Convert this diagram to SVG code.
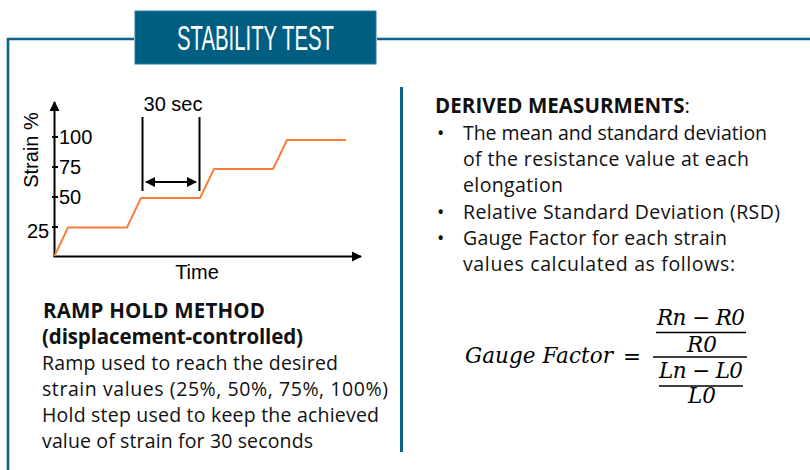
<svg xmlns="http://www.w3.org/2000/svg" width="810" height="470" viewBox="0 0 810 470">
<style>
.frame{stroke:#0b6488;stroke-width:2.6;fill:none}
.ax{stroke:#000;stroke-width:2;fill:none}
.body{font-family:"Open Sans","Liberation Sans",sans-serif;font-size:19.5px;fill:#111}
.bold{font-weight:bold;font-size:20.5px}
.graph{font-family:"Liberation Sans",Arial,sans-serif;font-size:20px;fill:#000}
.math{font-family:"DejaVu Serif","Liberation Serif",serif;font-style:italic;font-size:21.5px;fill:#000}
.bar{stroke:#000;stroke-width:1.6}
</style>
<defs>
<marker id="ah" viewBox="0 0 10 10" refX="9" refY="5" markerWidth="5" markerHeight="5" orient="auto-start-reverse" markerUnits="strokeWidth">
<path d="M0,0 L10,5 L0,10 z" fill="#000"/>
</marker>
</defs>
<rect width="810" height="470" fill="#fff"/>
<g id="frame">
<path class="frame" d="M8,470 V39 H134 M377,39 H810"/>
<line x1="401.5" y1="87" x2="401.5" y2="452" stroke="#0b6488" stroke-width="3"/>
</g>
<g id="header">
<rect x="135" y="11" width="241" height="53" fill="#005e82" stroke="#2a7c9c" stroke-width="1"/>
<text x="255.5" y="50" text-anchor="middle" font-family="Liberation Sans,Arial,sans-serif" font-size="35" fill="#fff" textLength="157" lengthAdjust="spacingAndGlyphs">STABILITY TEST</text>
</g>
<g id="chart">
<g id="axes">
<line class="ax" x1="54.5" y1="257" x2="54.5" y2="102" marker-end="url(#ah)"/>
<line class="ax" x1="53.5" y1="256.5" x2="361" y2="256.5" marker-end="url(#ah)"/>
<path class="ax" d="M52,137 H58 M52,167 H58 M52,197 H58 M52,227 H58" stroke-width="1.5"/>
</g>
<text class="graph" x="59" y="144">100</text>
<text class="graph" x="59" y="174">75</text>
<text class="graph" x="59" y="204">50</text>
<text class="graph" x="27" y="237.5">25</text>
<text class="graph" transform="translate(38,150) rotate(-90)" text-anchor="middle">Strain %</text>
<text class="graph" x="197" y="279" text-anchor="middle">Time</text>
<polyline points="54.5,256 68,227.5 127,227.5 141,198 200,198 214,169 273,169 287,140 346,140" fill="none" stroke="#fb7d3c" stroke-width="2"/>
<g id="interval">
<text class="graph" x="173" y="111" text-anchor="middle">30 sec</text>
<line class="ax" x1="142.5" y1="117" x2="142.5" y2="191"/>
<line class="ax" x1="199.5" y1="117" x2="199.5" y2="191"/>
<line class="ax" x1="146" y1="182" x2="196" y2="182" marker-start="url(#ah)" marker-end="url(#ah)"/>
</g>
</g>
<g id="method">
<text class="body bold" x="43" y="318" textLength="222">RAMP HOLD METHOD</text>
<text class="body bold" x="42" y="344" textLength="261">(displacement-controlled)</text>
<text class="body" x="42" y="370" textLength="296">Ramp used to reach the desired</text>
<text class="body" x="42" y="396" textLength="346">strain values (25%, 50%, 75%, 100%)</text>
<text class="body" x="42" y="422" textLength="337">Hold step used to keep the achieved</text>
<text class="body" x="42" y="448" textLength="271">value of strain for 30 seconds</text>
</g>
<g id="derived">
<text class="body bold" x="435" y="113" textLength="255">DERIVED MEASURMENTS<tspan font-weight="normal">:</tspan></text>
<g class="body">
<text x="437" y="140">•</text>
<text x="463" y="140" textLength="304">The mean and standard deviation</text>
<text x="463" y="166" textLength="286">of the resistance value at each</text>
<text x="463" y="192" textLength="100">elongation</text>
<text x="437" y="219">•</text>
<text x="463" y="219" textLength="317">Relative Standard Deviation (RSD)</text>
<text x="437" y="245">•</text>
<text x="463" y="245" textLength="264">Gauge Factor for each strain</text>
<text x="463" y="271" textLength="272">values calculated as follows:</text>
</g>
</g>
<g id="formula">
<text class="math" x="465" y="363" textLength="148">Gauge Factor</text>
<text class="math" x="632" y="364" text-anchor="middle" font-style="normal" font-size="24">=</text>
<text class="math" x="701" y="325" text-anchor="middle" textLength="88">Rn − R0</text>
<line class="bar" x1="656" y1="332.5" x2="746" y2="332.5"/>
<text class="math" x="702" y="352" text-anchor="middle">R0</text>
<line class="bar" x1="653" y1="357" x2="747" y2="357"/>
<text class="math" x="701" y="378" text-anchor="middle" textLength="84">Ln − L0</text>
<line class="bar" x1="659" y1="386" x2="743" y2="386"/>
<text class="math" x="702" y="403" text-anchor="middle">L0</text>
</g>
</svg>
